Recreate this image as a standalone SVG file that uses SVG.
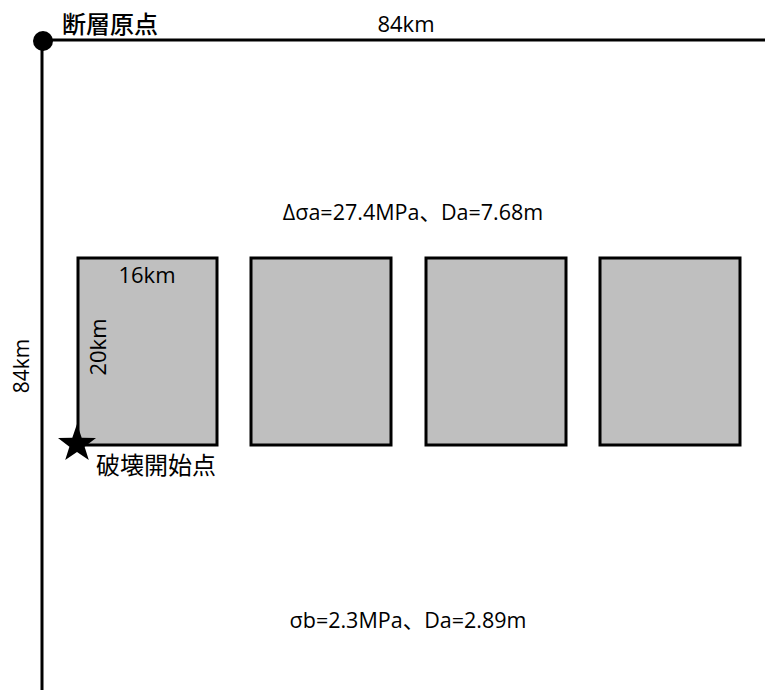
<svg xmlns="http://www.w3.org/2000/svg" width="765" height="690" viewBox="0 0 765 690">
<style>
.t{font-family:"Open Sans","Liberation Sans","Noto Sans CJK JP",sans-serif;fill:#000}
.j{font-family:"Noto Sans CJK JP",sans-serif;fill:#000}
.blk{fill:#bfbfbf;stroke:#000;stroke-width:3}
.ax{stroke:#000;stroke-width:3;fill:none}
</style>
<rect width="765" height="690" fill="#fff"/>
<g id="connectors">
<line class="ax" x1="42" y1="40" x2="765" y2="40"/>
<line class="ax" x1="42" y1="40" x2="42" y2="690"/>
</g>
<g id="origin">
<circle cx="43" cy="41" r="10" fill="#000"/>
<text class="j" x="62" y="33" font-size="24" font-weight="500">断層原点</text>
</g>
<text class="t" x="406" y="32" font-size="22" text-anchor="middle">84km</text>
<text class="t" font-size="21" text-anchor="middle" transform="translate(29,366) rotate(-90)">84km</text>
<text class="t" x="413" y="220" font-size="21.5" text-anchor="middle">Δσa=27.4MPa、Da=7.68m</text>
<text class="t" x="408" y="628" font-size="21.5" text-anchor="middle">σb=2.3MPa、Da=2.89m</text>
<g id="asperity1">
<rect class="blk" x="78" y="258" width="139" height="187"/>
<text class="t" x="147" y="283" font-size="22" text-anchor="middle">16km</text>
<text class="t" font-size="22" text-anchor="middle" transform="translate(106,347) rotate(-90)">20km</text>
</g>
<g id="asperity2"><rect class="blk" x="251" y="258" width="140" height="187"/></g>
<g id="asperity3"><rect class="blk" x="426" y="258" width="140" height="187"/></g>
<g id="asperity4"><rect class="blk" x="600" y="258" width="140" height="187"/></g>
<g id="hypocenter">
<polygon fill="#000" points="77,424 81.7,437.8 96,438 84.6,446.7 88.8,460 77,452 65.2,460 69.4,446.7 58,438 72.3,437.8"/>
<text class="j" x="96" y="474" font-size="24">破壊開始点</text>
</g>
</svg>
